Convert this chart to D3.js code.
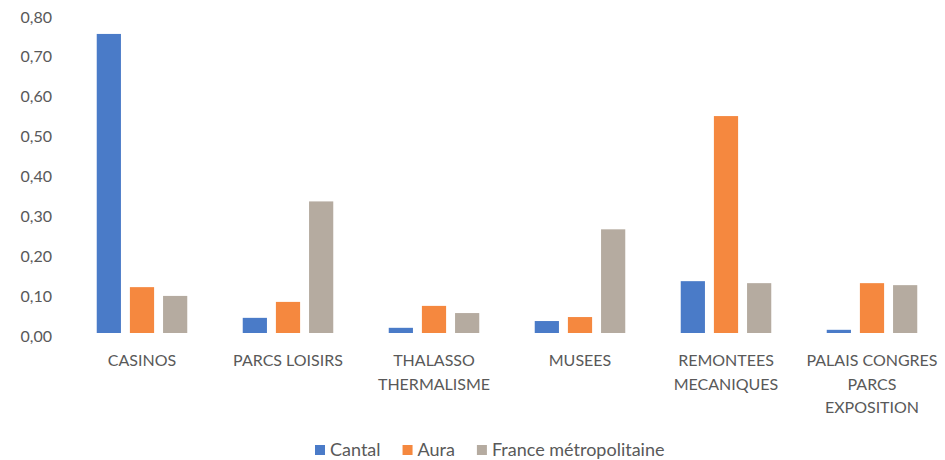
<!DOCTYPE html>
<html>
<head>
<meta charset="utf-8">
<script src="https://cdn.jsdelivr.net/npm/d3@7"></script>
<style>
  body { margin: 0; background: #fff; }
  text { font-family: Lato, "Open Sans", sans-serif; fill: #595959; }
</style>
</head>
<body>
<svg width="945" height="460"></svg>
<script>
  // data
  var categories = ["CASINOS", "PARCS LOISIRS", "THALASSO\nTHERMALISME", "MUSEES",
                    "REMONTEES\nMECANIQUES", "PALAIS CONGRES\nPARCS\nEXPOSITION"];
  var series = ["Cantal", "Aura", "France métropolitaine"];
  var cantal = [0.75, 0.038, 0.013, 0.03, 0.13, 0.008];
  var aura = [0.115, 0.078, 0.068, 0.04, 0.544, 0.125];
  var france = [0.093, 0.33, 0.05, 0.26, 0.125, 0.12];
  var yTicks = [0, 0.1, 0.2, 0.3, 0.4, 0.5, 0.6, 0.7, 0.8];
  var colors = ["#4a7bc8", "#f5883f", "#b5aba0"];

  var values = [cantal, aura, france];

  var svg = d3.select("svg");

  var x = d3.scaleBand()
      .domain(categories)
      .range([69, 945])
      .paddingInner(0.38)
      .paddingOuter(0.19);

  var xs = d3.scaleBand()
      .domain(series)
      .range([0, x.bandwidth()])
      .paddingInner(0.27);

  var y = d3.scaleLinear()
      .domain([0, 0.8])
      .range([333, 14]);

  var color = d3.scaleOrdinal().domain(series).range(colors);

  var fmt = function(d) { return d3.format(".2f")(d).replace(".", ","); };

  // y axis labels only
  var ya = svg.append("g")
      .attr("transform", "translate(52,0)")
      .call(d3.axisLeft(y).tickValues(yTicks).tickSize(0).tickPadding(0).tickFormat(fmt));
  ya.select(".domain").remove();
  ya.selectAll("text")
      .attr("dy", "0.5em")
      .style("font-size", "16px")
      .style("fill", "#595959");

  // bars
  var groups = svg.append("g").selectAll("g")
    .data(categories)
    .enter().append("g")
      .attr("transform", function(d) { return "translate(" + x(d) + ",0)"; });

  groups.selectAll("rect")
    .data(function(d, i) {
      return series.map(function(s, j) { return { s: s, v: values[j][i] }; });
    })
    .enter().append("rect")
      .attr("x", function(d) { return xs(d.s); })
      .attr("width", xs.bandwidth())
      .attr("y", function(d) { return y(d.v); })
      .attr("height", function(d) { return y(0) - y(d.v); })
      .attr("fill", function(d) { return color(d.s); });

  // x labels (multi line)
  var xa = svg.append("g")
      .attr("transform", "translate(0,333)")
      .call(d3.axisBottom(x).tickSize(0).tickFormat(""));
  xa.select(".domain").remove();
  xa.selectAll(".tick").append("text")
      .attr("y", 33)
      .style("font-size", "16px")
      .attr("text-anchor", "middle")
    .selectAll("tspan")
    .data(function(d) { return d.split("\n"); })
    .enter().append("tspan")
      .attr("x", 0)
      .attr("dy", function(d, i) { return i ? 23.5 : 0; })
      .text(function(d) { return d; });

  // legend
  var lg = svg.append("g").attr("transform", "translate(315,450)");
  var lx = 0;
  series.forEach(function(s) {
    var item = lg.append("g").attr("transform", "translate(" + lx + ",0)");
    item.append("rect")
        .attr("x", 0).attr("y", -5)
        .attr("width", 10).attr("height", 10)
        .attr("fill", color(s));
    var t = item.append("text")
        .attr("x", 15).attr("dy", "0.35em")
        .style("font-size", "18px")
        .text(s);
    lx += 15 + t.node().getComputedTextLength() + 22;
  });
</script>
</body>
</html>
